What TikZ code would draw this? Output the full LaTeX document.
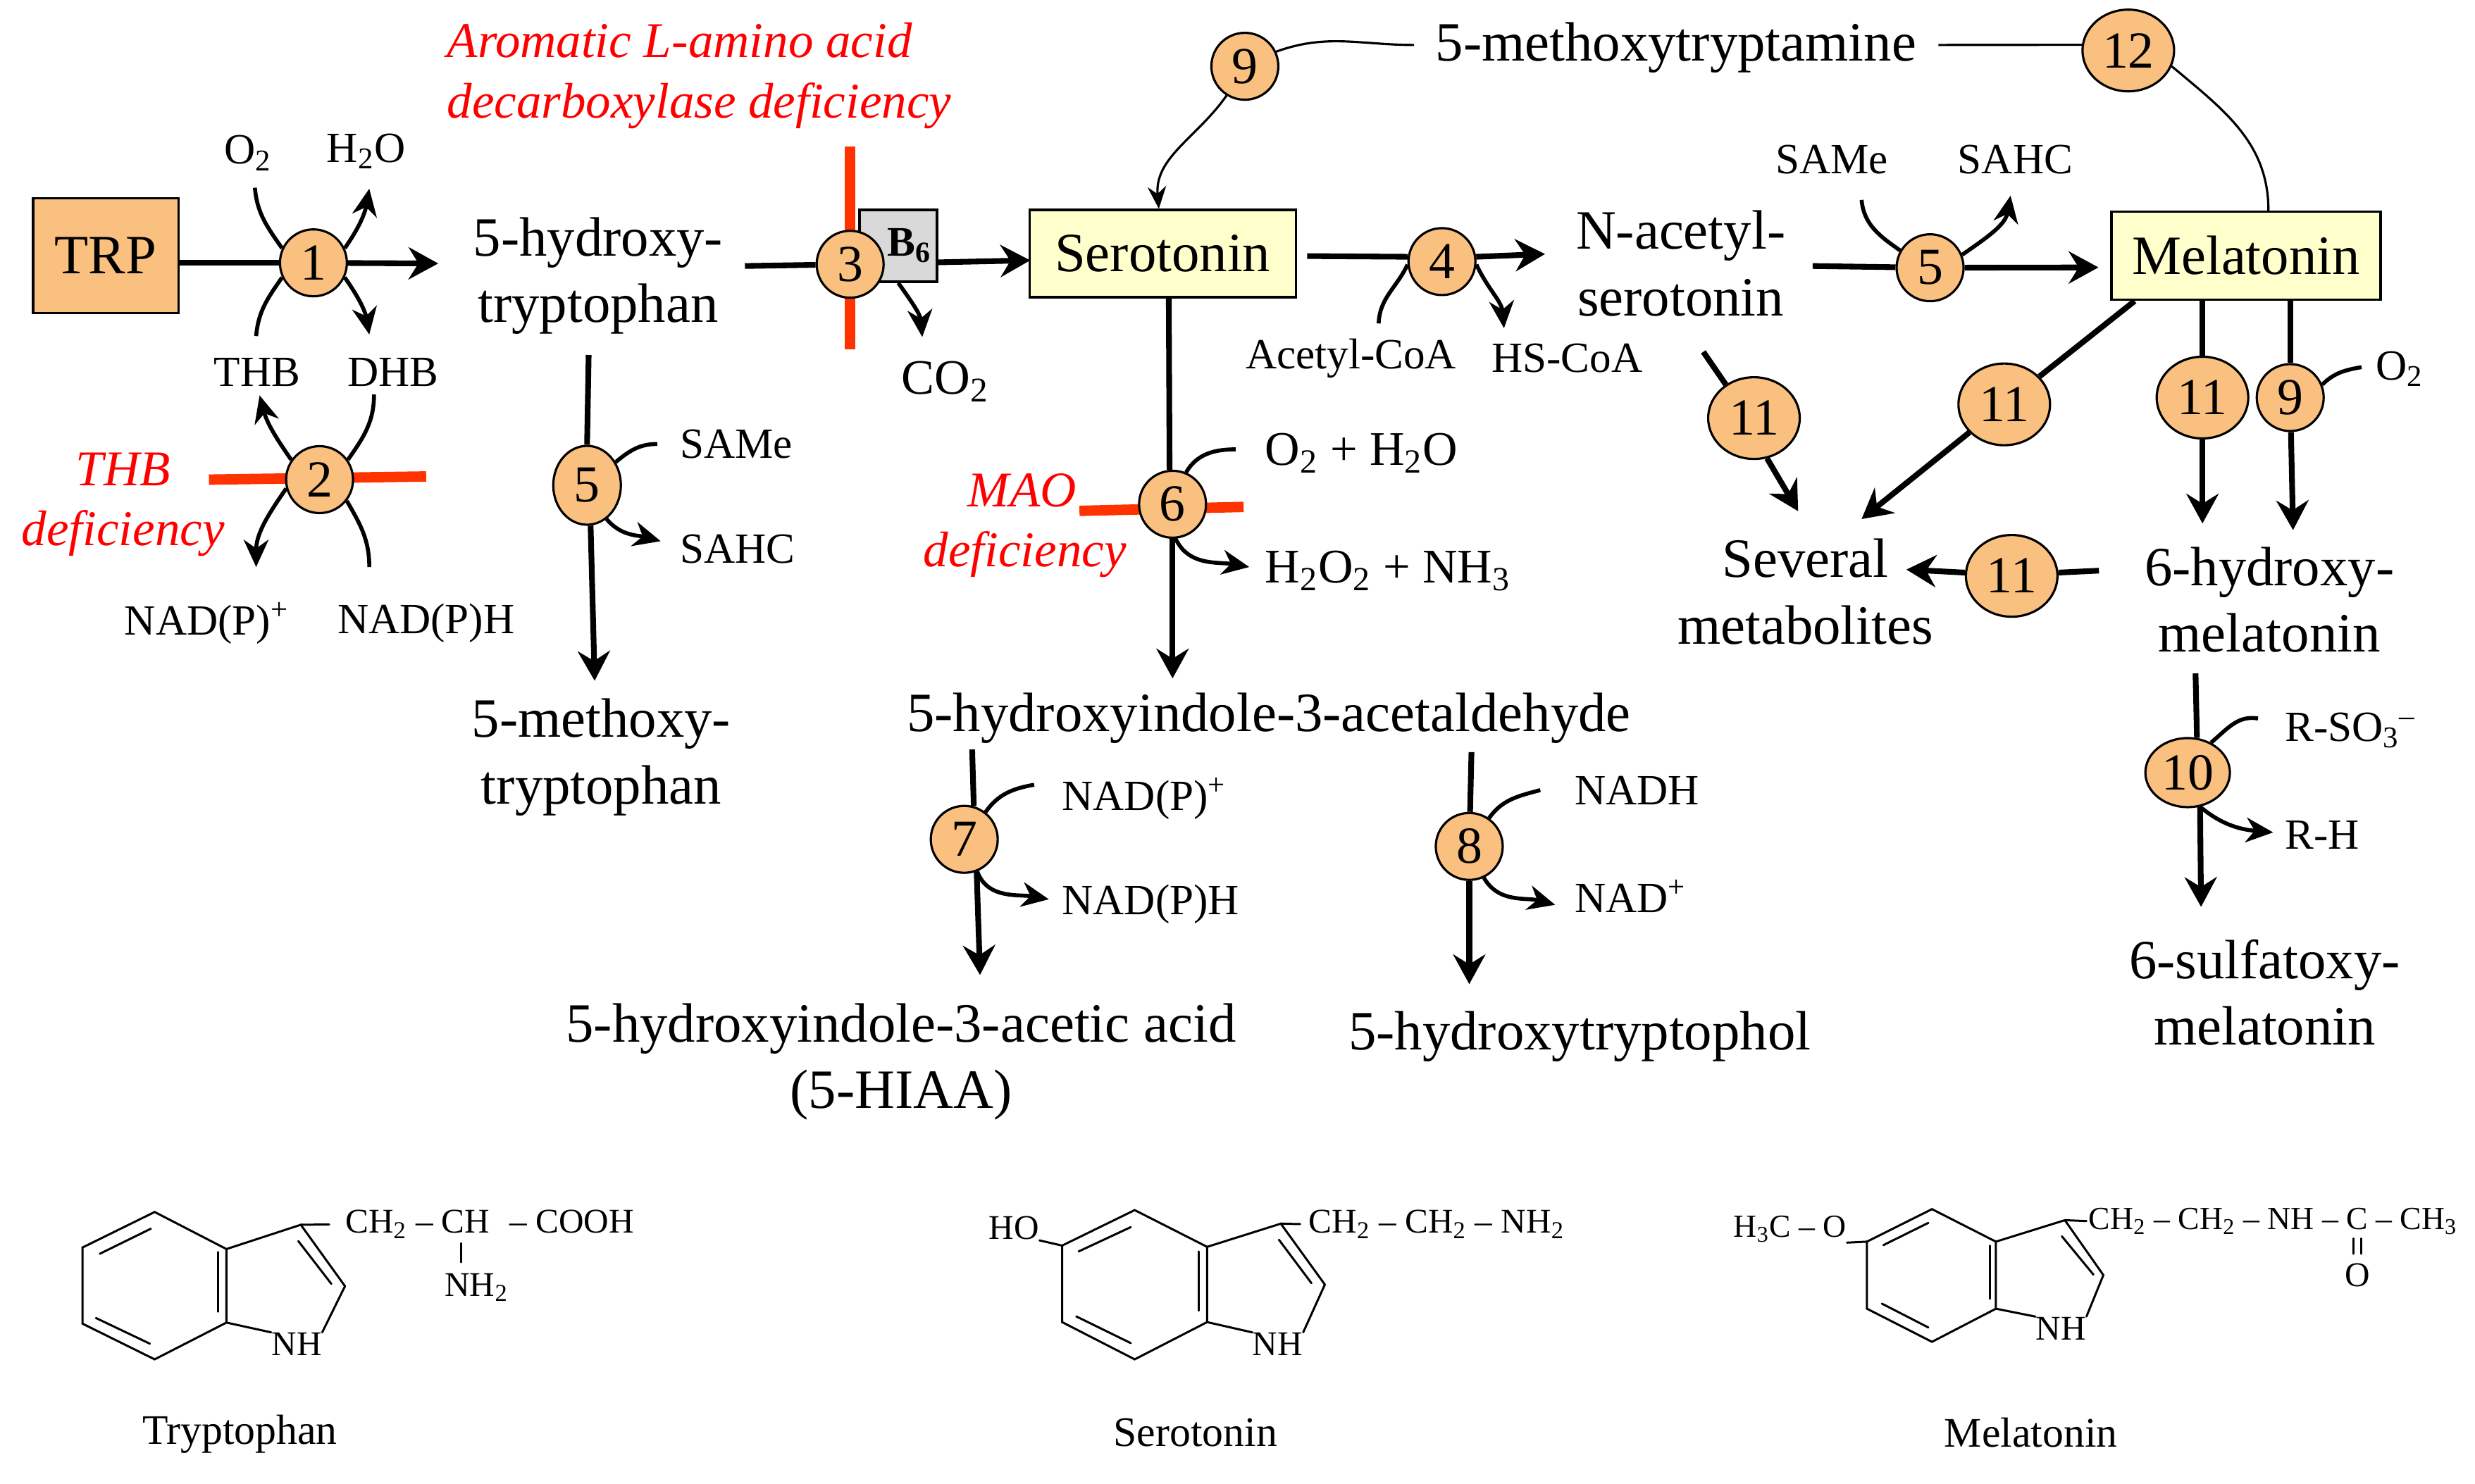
\documentclass[tikz,border=0pt]{standalone}
\usepackage{fontspec}
\setmainfont{Liberation Serif}
\usetikzlibrary{arrows.meta,shapes.geometric,backgrounds}
\definecolor{enzfill}{HTML}{FAC080}
\definecolor{sbox}{HTML}{FFFFCC}
\definecolor{barred}{HTML}{FF3300}
\tikzset{
  enzyme/.style = {ellipse, draw=black, line width=0.9pt, fill=enzfill, inner sep=0pt, minimum width=0.95cm, minimum height=0.95cm, font=\fontsize{21}{24}\selectfont},
  wideenz/.style = {enzyme, minimum width=1.3cm, minimum height=1.16cm},
  tallenz/.style = {enzyme, minimum width=0.96cm, minimum height=1.12cm},
  metabolite/.style = {inner sep=0pt, align=center, font=\fontsize{22.4}{26.8}\selectfont},
  cofactor/.style = {inner sep=0pt, font=\fontsize{17.4}{20}\selectfont},
  chem/.style = {inner sep=0pt, font=\fontsize{14}{16}\selectfont},
  chemnarrow/.style = {inner sep=0pt, font=\fontsize{13}{16}\selectfont},
  chemname/.style = {inner sep=0pt, font=\fontsize{17}{20}\selectfont},
  redtext/.style = {inner sep=0pt, text=red, font=\fontsize{20.2}{24.2}\selectfont\itshape},
  keybox/.style = {draw=black, line width=0.9pt, inner sep=0pt, font=\fontsize{22.4}{26}\selectfont},
  mainline/.style = {line width=2.3pt},
  mainarrow/.style = {line width=2.3pt, -{Stealth[length=12pt,width=13pt,inset=4pt]}},
  sideline/.style = {line width=1.6pt},
  sidearrow/.style = {line width=1.6pt, -{Stealth[length=11pt,width=10pt,inset=3.5pt]}},
  thinline/.style = {line width=0.9pt},
  thinarrow/.style = {line width=0.9pt, -{Stealth[length=9pt,width=7.5pt,inset=3pt]}},
  redbar/.style = {line width=4.2pt, barred},
  bond/.style = {line width=0.85pt, line cap=round},
}
\begin{document}
\begin{tikzpicture}[x=0.0224cm,y=-0.0224cm]
\useasboundingbox (0,0) rectangle (1568.3,940.2);
% boxes
\node[keybox, fill=enzfill, minimum width=2.06cm, minimum height=1.63cm] (trp) at (67,162) {TRP};
\node[keybox, fill=sbox, minimum width=3.78cm, minimum height=1.24cm] (sero) at (736.7,160.7) {Serotonin};
\node[keybox, fill=sbox, minimum width=3.82cm, minimum height=1.25cm] (mela) at (1423.2,162) {Melatonin};
\node[keybox, fill=black!15, minimum width=1.1cm, minimum height=1.02cm, font=\fontsize{17}{18}\selectfont\bfseries] (bsix) at (569.2,155.8) {\hspace{9pt}\raisebox{-1.3pt}{B\textsubscript{6}}};
% enzymes
\node[enzyme] (e1) at (198.6,166.6) {1};
\node[enzyme] (e2) at (202.5,304) {2};
\node[enzyme] (e3) at (538.7,167.5) {3};
\node[enzyme] (e4) at (913.7,165.8) {4};
\node[tallenz] (e5a) at (372,307.6) {5};
\node[enzyme] (e5b) at (1223,169.7) {5};
\node[enzyme] (e6) at (743,319.6) {6};
\node[enzyme] (e7) at (611,532) {7};
\node[enzyme] (e8) at (931,536.5) {8};
\node[enzyme] (e9a) at (788.8,42) {9};
\node[enzyme] (e9b) at (1451.2,252) {9};
\node[enzyme, minimum width=1.2cm, minimum height=0.98cm] (e10) at (1386.2,489.7) {10};
\node[wideenz] (e11a) at (1111.4,265) {11};
\node[wideenz] (e11b) at (1270,256.3) {11};
\node[wideenz] (e11c) at (1395.6,252) {11};
\node[wideenz] (e11d) at (1274.7,365) {11};
\node[wideenz] (e12) at (1348.6,32) {12};
% metabolites
\node[metabolite] (htp) at (379,175) {5-hydroxy-\\tryptophan};
\node[metabolite] (mtp) at (381,480) {5-methoxy-\\tryptophan};
\node[metabolite] (mtam) at (1062,30) {5-methoxytryptamine};
\node[metabolite] (nas) at (1065,167) {N-acetyl-\\serotonin};
\node[metabolite] (hald) at (804,455) {5-hydroxyindole-3-acetaldehyde};
\node[metabolite] (hiaa) at (571,673) {5-hydroxyindole-3-acetic acid\\(5-HIAA)};
\node[metabolite] (htol) at (1001,657) {5-hydroxytryptophol};
\node[metabolite] (sev) at (1144,375) {Several\\metabolites};
\node[metabolite] (hmel) at (1438,380) {6-hydroxy-\\melatonin};
\node[metabolite] (smel) at (1435,629) {6-sulfatoxy-\\melatonin};
% cofactors
\node[cofactor] (oxa) at (157,97) {O\textsubscript{2}};
\node[cofactor] (wata) at (232,96) {H\textsubscript{2}O};
\node[cofactor] (thb) at (163,236) {THB};
\node[cofactor] (dhb) at (249,236) {DHB};
\node[cofactor] (nadpa) at (131,395) {NAD(P)\textsuperscript{+}};
\node[cofactor] (nadha) at (270,395) {NAD(P)H};
\node[cofactor, font=\fontsize{20}{22}\selectfont] (cotwo) at (599,242) {CO\textsubscript{2}};
\node[cofactor, anchor=west] (samea) at (430.6,281.4) {SAMe};
\node[cofactor, anchor=west] (sahca) at (430.6,348) {SAHC};
\node[cofactor] (sameb) at (1160.7,101) {SAMe};
\node[cofactor] (sahcb) at (1277,101) {SAHC};
\node[cofactor] (acoa) at (856,227) {Acetyl-CoA};
\node[cofactor] (hscoa) at (993,227) {HS-CoA};
\node[metabolite, anchor=west, font=\fontsize{19.5}{22}\selectfont] (oxwat) at (801.4,287) {O\textsubscript{2} + H\textsubscript{2}O};
\node[metabolite, anchor=west, font=\fontsize{19.5}{22}\selectfont] (perox) at (801.4,362) {H\textsubscript{2}O\textsubscript{2} + NH\textsubscript{3}};
\node[cofactor, anchor=west] (nadpb) at (672.7,506) {NAD(P)\textsuperscript{+}};
\node[cofactor, anchor=west] (nadhb) at (672.7,573) {NAD(P)H};
\node[cofactor, anchor=west] (nadh) at (997.6,501) {NADH};
\node[cofactor, anchor=west] (nadp) at (997.6,568) {NAD\textsuperscript{+}};
\node[cofactor] (oxb) at (1520.5,234) {O\textsubscript{2}};
\node[cofactor, anchor=west] (rso) at (1447.6,463) {R-SO\textsubscript{3}\textsuperscript{–}};
\node[cofactor, anchor=west] (rh) at (1447.6,529.4) {R-H};
% deficiencies
\node[redtext, anchor=west, align=left] (aadc) at (283,48) {Aromatic L-amino acid\\decarboxylase deficiency};
\node[redtext, align=center] (thbd) at (78,320) {THB\\deficiency};
\node[redtext, align=right, anchor=east] (maod) at (714,332.5) {MAO\phantom{fic}\\deficiency};
% free ends
\coordinate (oxin) at (161.5,119);
\coordinate (watout) at (234,119.6);
\coordinate (thbin) at (162.3,213);
\coordinate (dhbout) at (234,212);
\coordinate (thbout) at (164.5,250.6);
\coordinate (dhbin) at (237,250);
\coordinate (nadpout) at (162.3,359.4);
\coordinate (nadhin) at (234,359.4);
\coordinate (htpend) at (277.7,167);
\coordinate (htpstart) at (472,168.6);
\coordinate (seroin) at (652.8,165);
\coordinate (cotwoout) at (584.4,213.6);
\coordinate (fivestart) at (373,225);
\coordinate (fiveend) at (376.8,431.5);
\coordinate (samein) at (416.5,281.4);
\coordinate (sahcout) at (418.6,343);
\coordinate (seroout) at (828.3,162.3);
\coordinate (nasend) at (979,161);
\coordinate (acoain) at (873.6,205);
\coordinate (hscoaout) at (953,208);
\coordinate (nasstart) at (1148.6,168.6);
\coordinate (melain) at (1329.7,169.5);
\coordinate (samebin) at (1179.6,126.7);
\coordinate (sahcbout) at (1274,124);
\coordinate (serobot) at (740.6,188.5);
\coordinate (haldend) at (743,430);
\coordinate (oxwatin) at (783,284.8);
\coordinate (peroxout) at (791.6,359.4);
\coordinate (sevstart) at (1079.3,223);
\coordinate (sevtipa) at (1139.4,324);
\coordinate (melacorner) at (1352.6,190.8);
\coordinate (sevtipb) at (1179.6,329);
\coordinate (sevtipc) at (1208,361);
\coordinate (hmelstart) at (1330,361.7);
\coordinate (hmeltipa) at (1395.6,331.8);
\coordinate (hmeltipb) at (1453,336);
\coordinate (oxbin) at (1496.4,232.7);
\coordinate (sevenstart) at (616,475);
\coordinate (sevenend) at (621,618);
\coordinate (nadpbin) at (655.3,497.4);
\coordinate (nadhbout) at (664.6,570);
\coordinate (eightstart) at (932.4,476.7);
\coordinate (eightend) at (931,623.8);
\coordinate (nadhin2) at (976,500.8);
\coordinate (nadpout2) at (985.4,573.5);
\coordinate (tenstart) at (1391.2,426.8);
\coordinate (tenend) at (1394.7,574.8);
\coordinate (rsoin) at (1430.8,455.4);
\coordinate (rhout) at (1440.4,527.6);
\coordinate (mtamw) at (896,28.5);
\coordinate (mtame) at (1228.3,28.5);
\coordinate (barta) at (538.7,93);
\coordinate (bartb) at (538.7,221.6);
\coordinate (barda) at (132.4,304);
\coordinate (bardb) at (270,302);
\coordinate (barma) at (684,323.8);
\coordinate (barmb) at (788,321.3);
\begin{scope}[on background layer]
\draw[redbar] (barta) to (bartb);
\draw[redbar] (barda) to (bardb);
\draw[redbar] (barma) to (barmb);
\draw[mainline] (trp.east |- e1) to (e1);
\draw[mainarrow] (e1) to (htpend);
\draw[mainline] (htpstart) to (e3);
\draw[mainarrow] (e3) to (seroin);
\draw[mainline] (seroout) to (e4.172);
\draw[mainarrow] (e4.8) to (nasend);
\draw[mainline] (nasstart) to (e5b);
\draw[mainarrow] (e5b) to (melain);
\draw[mainline] (fivestart) to (e5a.90);
\draw[mainarrow] (e5a.-85) to (fiveend);
\draw[mainline] (serobot) to (e6.95);
\draw[mainarrow] (e6.-90) to (haldend);
\draw[mainline] (sevenstart) to (e7.74);
\draw[mainarrow] (e7.-69) to (sevenend);
\draw[mainline] (eightstart) to (e8);
\draw[mainarrow] (e8) to (eightend);
\draw[mainline] (tenstart) to (e10.75);
\draw[mainarrow] (e10.-70) to (tenend);
\draw[mainline] (sevstart) to (e11a.130);
\draw[mainarrow] (e11a.-72) to (sevtipa);
\draw[mainline] (melacorner) to (e11b);
\draw[mainarrow] (e11b) to (sevtipb);
\draw[mainline] (mela.south -| e11c) to (e11c);
\draw[mainarrow] (e11c) to (hmeltipa);
\draw[mainline] (mela.south -| e9b) to (e9b);
\draw[mainarrow] (e9b) to (hmeltipb);
\draw[mainline] (hmelstart) to (e11d.4);
\draw[mainarrow] (e11d.176) to (sevtipc);
\end{scope}
\draw[sideline] (oxin) to[out=-85,in=125] (e1.155);
\draw[sidearrow] (e1.25) to[out=55,in=-100] (watout);
\draw[sideline] (thbin) to[out=85,in=-125] (e1.-155);
\draw[sidearrow] (e1.-25) to[out=-55,in=100] (dhbout);
\draw[sidearrow] (e2.145) to[out=125,in=-75] (thbout);
\draw[sideline] (dhbin) to[out=-90,in=55] (e2.35);
\draw[sidearrow] (e2.-165) to[out=-125,in=90] (nadpout);
\draw[sideline] (nadhin) to[out=90,in=-60] (e2.-38);
\draw[sidearrow] (bsix.south) to[out=-55,in=95] (cotwoout);
\draw[sideline] (samein) to[out=180,in=40] (e5a.39);
\draw[sidearrow] (e5a.-60) to[out=-50,in=165] (sahcout);
\draw[sideline] (acoain) to[out=88,in=-115] (e4.-175);
\draw[sidearrow] (e4.-5) to[out=-65,in=95] (hscoaout);
\draw[sideline] (samebin) to[out=-85,in=145] (e5b.150);
\draw[sidearrow] (e5b.22) to[out=35,in=-100] (sahcbout);
\draw[sideline] (oxwatin) to[out=180,in=60] (e6.67);
\draw[sidearrow] (e6.-85) to[out=-65,in=170] (peroxout);
\draw[sideline] (oxbin) to[out=190,in=45] (e9b.22);
\draw[sideline] (nadpbin) to[out=190,in=55] (e7.52);
\draw[sidearrow] (e7.-68) to[out=-70,in=170] (nadhbout);
\draw[sideline] (nadhin2) to[out=195,in=55] (e8.55);
\draw[sidearrow] (e8.-65) to[out=-60,in=165] (nadpout2);
\draw[sideline] (rsoin) to[out=170,in=40] (e10.52);
\draw[sidearrow] (e10.-70) to[out=-40,in=175] (rhout);
\draw[thinline] (mtamw) to[out=180,in=20] (e9a.25);
\draw[thinarrow] (e9a.-122) to[out=-125,in=95] (sero.north -| 734.3,0);
\draw[thinline] (mtame) to (e12.173);
\draw[thinline] (e12.-20) to[out=-40,in=90] (mela.north -| 1437.4,0);
% tryptophan
\draw[bond] (98,768.2) -- (143.5,791.7) -- (143.5,838.3) -- (98,861.6) -- (52.3,839) -- (52.3,790.7) -- cycle;
\draw[bond] (63.2,794.7) -- (95.6,778.8);
\draw[bond] (60.8,835.4) -- (95,851.7);
\draw[bond] (138.3,793.6) -- (138.3,831.4);
\draw[bond] (143.5,791.7) -- (190.6,776.3) -- (218.6,815.2);
\draw[bond] (189,786.6) -- (210,813.8);
\node[chem] (tnh) at (188,852) {NH};
\draw[bond] (143.5,838.3) -- (tnh.north west);
\draw[bond] (218.6,815.2) -- (tnh.north east);
\node[chem, anchor=west] (tside) at (218.6,776) {CH\textsubscript{2} – CH\hspace{4.5pt} – COOH};
\draw[bond, shorten >=6.4pt] (190.6,776.3) -- (tside.west);
\node[chem] (tamine) at (302,816) {NH\textsubscript{2}};
\draw[bond] (292,788) -- (292,800);
\node[chemname] (tname) at (152,909) {Tryptophan};
% serotonin
\draw[bond] (719,767) -- (764.9,790.3) -- (764.9,838) -- (719,861.6) -- (673,838) -- (673,789.5) -- cycle;
\draw[bond] (683.5,793.2) -- (716.5,777.8);
\draw[bond] (682,834.4) -- (716.5,851.3);
\draw[bond] (759.8,793.2) -- (759.8,830.7);
\draw[bond] (764.9,790.3) -- (811.6,775.6) -- (839.5,814.2);
\draw[bond] (810.4,785.8) -- (831,813.3);
\node[chem] (snh) at (809.6,852) {NH};
\draw[bond] (764.9,838) -- (snh.north west);
\draw[bond] (839.5,814.2) -- (snh.north east);
\node[chem, anchor=west] (sside) at (829,776) {CH\textsubscript{2} – CH\textsubscript{2} – NH\textsubscript{2}};
\draw[bond, shorten >=3.3pt] (811.6,775.6) -- (sside.west);
\node[chem] (sho) at (642.5,778.5) {HO};
\draw[bond] (673,789.5) -- (sho.south east);
\node[chemname] (sname) at (757.5,908) {Serotonin};
% melatonin
\draw[bond] (1224.2,766.4) -- (1264.7,787) -- (1264.7,829.5) -- (1224.2,850.5) -- (1183,829.5) -- (1183,787) -- cycle;
\draw[bond] (1193.4,789.2) -- (1221.9,775.1);
\draw[bond] (1192.5,826.3) -- (1221.9,841.4);
\draw[bond] (1260.9,789.5) -- (1260.9,823.3);
\draw[bond] (1264.7,787) -- (1308.4,773.4) -- (1332.8,808.2);
\draw[bond] (1306.5,783.6) -- (1326.5,807.9);
\node[chem] (mnh) at (1305.9,842) {NH};
\draw[bond] (1264.7,829.5) -- (mnh.north west);
\draw[bond] (1332.8,808.2) -- (mnh.north east);
\node[chemnarrow, anchor=west] (mside) at (1323.3,774) {CH\textsubscript{2} – CH\textsubscript{2} – NH – C – CH\textsubscript{3}};
\draw[bond, shorten >=0.8pt] (1308.4,773.4) -- (mside.west);
\node[chemnarrow, anchor=west] (mox) at (1098.3,779) {H\textsubscript{3}C – O};
\draw[bond] (1183,787) -- (mox.south east);
\node[chem] (mcarb) at (1493.8,808.2) {O};
\draw[bond] (1491.3,785) -- (1491.3,794.7);
\draw[bond] (1496,785) -- (1496,794.7);
\node[chemname] (mname) at (1286.9,908) {Melatonin};
\end{tikzpicture}
\end{document}
